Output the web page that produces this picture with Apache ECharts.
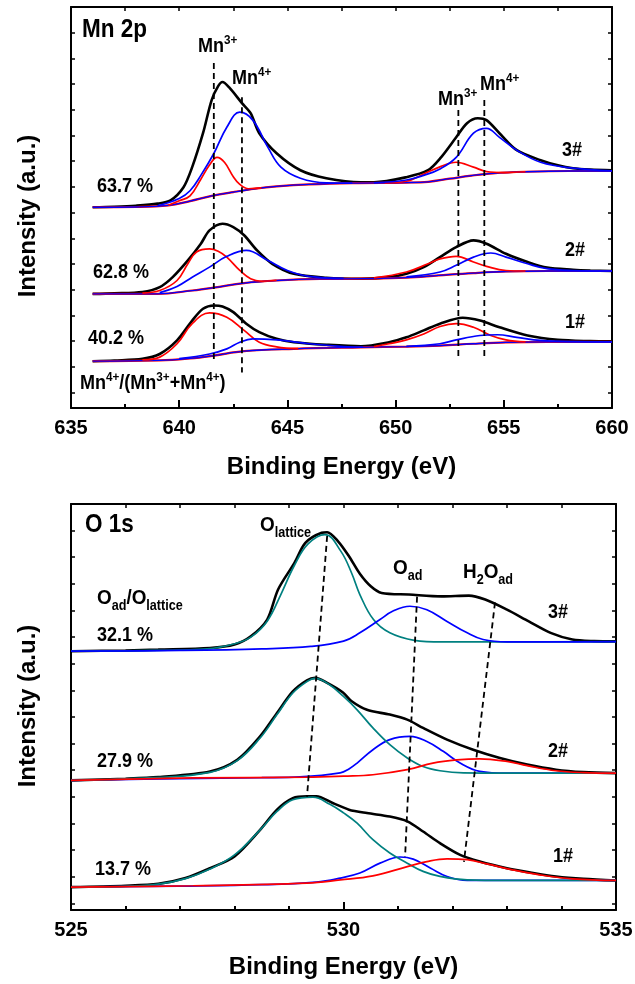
<!DOCTYPE html>
<html>
<head>
<meta charset="utf-8">
<script src="https://cdn.jsdelivr.net/npm/echarts@6/dist/echarts.min.js"></script>
<style>
  html, body { margin: 0; padding: 0; background: #fff; }
  #chart { width: 635px; height: 984px; }
</style>
</head>
<body>
<div id="chart"></div>
<script>
// ---------- Mn 2p panel (E in eV, intensity in arbitrary units) ----------
const mnYTicks = [0, 1, 2, 3, 4, 5, 6, 7, 8, 9, 10, 11, 12, 13, 14, 15]

const mnBase3 = [[636,7.21],[638,7.22],[639.5,7.28],[640.5,7.45],[641.5,7.65],[642.5,7.8],[643.5,7.93],[644.5,8.02],[646,8.1],[648,8.15],[650.5,8.17],[651.5,8.2],[652.5,8.32],[653.5,8.44],[654.5,8.53],[656,8.59],[658,8.62],[660,8.62]]
const mnRaw3 = [[636,7.21],[637,7.23],[638,7.27],[639,7.35],[639.6,7.48],[640.2,7.99],[640.6,8.77],[641.1,10.09],[641.5,11.38],[641.8,11.92],[642,12.08],[642.3,11.88],[642.9,11.26],[643.3,10.87],[643.7,10.09],[644.5,9.31],[645.6,8.65],[646.8,8.34],[648.4,8.18],[649,8.18],[650.5,8.38],[651.5,8.65],[652.1,9.15],[652.8,9.93],[653.3,10.48],[653.8,10.67],[654.2,10.6],[654.8,10.09],[655.6,9.43],[656.7,9.04],[657.5,8.84],[658.2,8.73],[659,8.68],[660,8.65]]
const mnRed3 = [
  [[639.5,7.29],[640,7.46],[640.5,7.65],[641,8.3],[641.4,8.85],[641.75,9.15],[642.1,8.95],[642.5,8.4],[642.8,8.1],[643.2,7.93],[643.8,7.96]],
  [[649.5,8.16],[650.5,8.22],[651.3,8.5],[652.1,8.8],[652.8,8.96],[653.6,8.77],[654.2,8.6],[655,8.56],[656,8.59]]
]
const mnBlue3 = [
  [[639,7.27],[640,7.55],[640.5,7.85],[641,8.45],[641.6,9.3],[642.2,10.32],[642.8,10.91],[643.4,10.6],[644.1,9.54],[644.7,8.77],[645.6,8.34],[646.8,8.16],[648,8.15]],
  [[649,8.16],[650.5,8.27],[651.3,8.45],[652.05,8.7],[652.8,9.15],[653.6,10.09],[654.2,10.28],[654.8,9.93],[655.6,9.43],[656.7,8.96],[658.2,8.73],[660,8.63]]
]

const mnBase2 = [[636,3.84],[639,3.84],[640.6,3.97],[641.6,4.08],[643,4.26],[644.5,4.36],[646.5,4.42],[648.5,4.43],[650.5,4.47],[652,4.56],[653.6,4.65],[655.1,4.71],[657,4.73],[660,4.73]]
const mnRaw2 = [[636,3.84],[637,3.86],[638.3,3.91],[639.1,4.1],[639.7,4.49],[640.4,5.14],[641,5.79],[641.4,6.31],[642,6.57],[642.5,6.44],[643,6.12],[643.6,5.53],[644.3,5.01],[645.3,4.62],[646.8,4.47],[648.4,4.43],[649.7,4.49],[650.5,4.62],[651.3,4.88],[652.05,5.27],[652.8,5.66],[653.6,5.92],[654.2,5.79],[655.1,5.4],[656.1,5.08],[657,4.86],[658.2,4.78],[659,4.75],[660,4.73]]
const mnRed2 = [
  [[638.3,3.87],[639.1,3.97],[639.9,4.36],[640.4,5.01],[640.8,5.47],[641.4,5.59],[641.8,5.5],[642.2,5.27],[642.8,4.75],[643.3,4.43],[643.8,4.33],[644.5,4.37]],
  [[649,4.46],[650.5,4.69],[651.5,5.01],[652.05,5.2],[652.8,5.3],[653.6,5.08],[654.2,4.91],[655.1,4.75],[656,4.73]]
]
const mnBlue2 = [
  [[639.1,3.89],[639.9,4.13],[640.6,4.49],[641.4,4.88],[642.2,5.3],[643.1,5.53],[644.1,5.14],[645,4.75],[646,4.52],[647.6,4.44]],
  [[650.5,4.5],[652.05,4.69],[652.8,4.95],[653.6,5.27],[654.4,5.43],[655.1,5.27],[656.1,5.01],[657,4.82],[658.2,4.75],[660,4.73]]
]

const mnBase1 = [[636,1.22],[639.1,1.25],[640.5,1.33],[641.6,1.44],[643,1.61],[645.3,1.7],[648.4,1.76],[650.5,1.79],[652.05,1.83],[653.6,1.9],[655.1,1.95],[657,1.97],[660,1.97]]
const mnRaw1 = [[636,1.22],[637,1.25],[638.3,1.31],[639.1,1.5],[639.9,2.03],[640.6,2.8],[641.1,3.26],[641.6,3.39],[642,3.35],[642.5,3.13],[643.1,2.68],[643.7,2.35],[644.5,2.09],[645.3,1.96],[646.8,1.86],[648.4,1.8],[649.7,1.96],[650.5,2.15],[651.3,2.42],[652.05,2.68],[653.1,2.91],[653.9,2.8],[654.8,2.54],[656.1,2.22],[657.5,2.05],[659,2],[660,1.99]]
const mnRed1 = [
  [[638.3,1.27],[639.1,1.38],[639.9,1.9],[640.6,2.68],[641.4,3.1],[642.2,2.93],[643,2.42],[643.7,1.96],[644.5,1.78],[645.5,1.71]],
  [[649,1.79],[649.7,1.9],[650.5,2.05],[651.3,2.28],[652.05,2.57],[652.8,2.68],[653.6,2.54],[654.4,2.22],[655.1,2.05],[656,1.97]]
]
const mnBlue1 = [
  [[640,1.32],[641.4,1.5],[642.2,1.7],[642.8,1.96],[643.4,2.09],[644.5,2.05],[646,1.9],[647.6,1.79],[648.5,1.77]],
  [[650.5,1.8],[652.05,1.9],[652.8,2.05],[653.9,2.22],[654.7,2.25],[655.6,2.15],[656.7,2.03],[658.2,1.98],[660,1.97]]
]

const mnGuides = [
  [[641.6,12.82],[641.6,1.25]],
  [[642.9,11.49],[642.9,0.78]],
  [[652.9,10.99],[652.9,1.36]],
  [[654.1,11.38],[654.1,1.36]]
]
const mnRatios = ['63.7 %', '62.8 %', '40.2 %']

// ---------- O 1s panel ----------
const oYTicks = [0, 1, 2, 3, 4, 5, 6, 7, 8, 9, 10, 11, 12, 13, 14, 15]

const oRaw3 = [[525,9.47],[526,9.5],[526.6,9.53],[527.55,9.59],[528,9.72],[528.3,10.03],[528.6,10.66],[528.8,11.79],[529.1,12.79],[529.3,13.54],[529.6,13.92],[529.7,13.94],[529.9,13.6],[530.1,13.04],[530.3,12.38],[530.5,11.91],[530.7,11.66],[531.2,11.6],[531.8,11.53],[532.3,11.56],[532.6,11.41],[533,11.03],[533.4,10.59],[533.8,10.16],[534.2,9.91],[534.6,9.85],[535,9.84]]
const oLat3 = [[525,9.47],[526.5,9.5],[527.5,9.56],[528,9.75],[528.3,10],[528.6,10.6],[528.85,11.6],[529.1,12.7],[529.35,13.5],[529.66,13.85],[529.95,13.23],[530.15,12.4],[530.3,11.6],[530.55,10.66],[530.85,10.16],[531.3,9.88],[531.8,9.82],[533,9.82],[535,9.83]]
const oAd3 = [[525,9.47],[527,9.5],[528.5,9.56],[529.4,9.65],[530,9.85],[530.3,10.16],[530.67,10.66],[530.9,10.97],[531.22,11.16],[531.53,11.03],[531.9,10.59],[532.27,10.16],[532.56,9.91],[533,9.82],[534,9.82],[535,9.83]]

const oRaw2 = [[525,4.62],[526,4.68],[526.6,4.74],[527.55,4.95],[528.05,5.39],[528.47,6.27],[528.78,7.15],[529.07,7.96],[529.33,8.38],[529.48,8.47],[529.7,8.28],[529.99,7.92],[530.15,7.59],[530.43,7.27],[530.85,7.09],[531.17,6.9],[531.46,6.59],[531.9,6.15],[532.38,5.77],[532.87,5.46],[533.37,5.21],[533.9,5.02],[534.4,4.93],[535,4.89]]
const oLat2 = [[525,4.62],[526.5,4.72],[527.55,4.92],[528.05,5.36],[528.47,6.21],[528.78,7.09],[529.07,7.9],[529.33,8.33],[529.48,8.45],[529.75,8.2],[530,7.77],[530.25,7.27],[530.54,6.59],[530.85,5.96],[531.17,5.46],[531.46,5.14],[531.77,4.98],[532.2,4.9],[533,4.89],[535,4.89]]
const oAd2 = [[525,4.62],[527,4.68],[528.5,4.72],[529.2,4.75],[529.94,4.9],[530.1,5.05],[530.25,5.27],[530.54,5.77],[530.85,6.15],[531.22,6.27],[531.53,6.08],[531.83,5.71],[532.14,5.27],[532.5,4.96],[533,4.89],[535,4.89]]
const oH2O2 = [[525,4.62],[527.24,4.71],[529.33,4.74],[530,4.78],[530.54,4.83],[531.17,5.02],[531.64,5.27],[532.08,5.39],[532.5,5.43],[533,5.33],[533.37,5.17],[533.9,4.98],[534.4,4.91],[535,4.89]]

const oRaw1 = [[525,0.61],[526,0.66],[526.6,0.73],[527.1,0.95],[527.55,1.32],[528,1.76],[528.47,2.76],[528.78,3.52],[529.07,3.95],[529.33,4.02],[529.5,4.02],[529.8,3.77],[530.1,3.52],[530.43,3.39],[530.85,3.26],[531.17,3.08],[531.46,2.7],[531.77,2.26],[532.14,1.82],[532.5,1.57],[533,1.32],[533.48,1.14],[533.9,1.01],[534.4,0.92],[535,0.86]]
const oLat1 = [[525,0.61],[526,0.64],[526.6,0.72],[527.1,0.93],[527.55,1.29],[528,1.82],[528.47,2.76],[528.78,3.45],[529.07,3.89],[529.44,3.99],[529.75,3.72],[530,3.4],[530.25,3.01],[530.54,2.39],[530.85,1.89],[531.17,1.51],[531.46,1.2],[531.77,1.01],[532.27,0.88],[533,0.86],[535,0.86]]
const oAd1 = [[525,0.61],[527,0.65],[528.5,0.7],[529.5,0.8],[529.94,0.95],[530.3,1.14],[530.67,1.51],[531.04,1.74],[531.28,1.66],[531.6,1.32],[531.9,1.01],[532.27,0.86],[533,0.86],[535,0.86]]
const oH2O1 = [[525,0.61],[527.24,0.66],[529.33,0.76],[529.94,0.88],[530.54,1.03],[531.17,1.38],[531.53,1.57],[531.9,1.67],[532.27,1.64],[532.63,1.48],[533.1,1.26],[533.6,1.07],[534.2,0.92],[535,0.86]]

const oGuides = [
  [[529.7,13.8],[529.33,4.0]],
  [[531.35,11.52],[531.13,1.75]],
  [[532.78,11.3],[532.21,1.56]]
]
const oRatios = ['32.1 %', '27.9 %', '13.7 %']
const sampleNames = ['3#', '2#', '1#']

// ---------- helpers ----------
const F = '"Liberation Sans", Arial, Helvetica, sans-serif'
const RED = '#ff0000', BLUE = '#0000ff', TEAL = '#008080'

function line(data, color, width, panel, z, smooth) {
  return {
    type: 'line', data, xAxisIndex: panel * 2, yAxisIndex: panel * 2,
    showSymbol: false, symbol: 'none', smooth: smooth === undefined ? 0.4 : smooth,
    lineStyle: {color, width}, z, silent: true, animation: false
  }
}
function guide(data, panel) {
  return {
    type: 'line', data, xAxisIndex: panel * 2, yAxisIndex: panel * 2,
    showSymbol: false, symbol: 'none',
    lineStyle: {color: '#000', width: 1.8, type: [6, 4]}, z: 8, silent: true, animation: false
  }
}

const measure = document.createElement('canvas').getContext('2d')
// parts: [text, fontSize, dy]
function label(x, y, parts, scale) {
  let cx = 0
  const children = parts.map(p => {
    const font = 'bold ' + p[1] + 'px ' + F
    measure.font = font
    const el = {
      type: 'text', x: cx, y: p[2] || 0,
      style: {text: p[0], font, fill: '#000', textVerticalAlign: 'middle', verticalAlign: 'middle', textAlign: 'left', align: 'left'}
    }
    cx += measure.measureText(p[0]).width
    return el
  })
  return {type: 'group', x, y, scaleX: scale || 0.9, children, silent: true}
}

const axisCommon = {
  axisLine: {show: true, onZero: false, lineStyle: {color: '#000', width: 2}},
  splitLine: {show: false}
}
function xBottom(panel, min, max, minorSplit, gap) {
  return Object.assign({}, axisCommon, {
    gridIndex: panel, type: 'value', position: 'bottom', min, max, interval: 5,
    axisTick: {show: true, inside: true, length: 8, lineStyle: {color: '#000', width: 2}},
    minorTick: {show: true, splitNumber: minorSplit, length: 4, lineStyle: {color: '#000', width: 2}},
    minorSplitLine: {show: false},
    axisLabel: {color: '#000', fontFamily: F, fontWeight: 'bold', fontSize: 20, margin: 10},
    name: 'Binding Energy (eV)', nameLocation: 'middle', nameGap: gap,
    nameTextStyle: {color: '#000', fontFamily: F, fontWeight: 'bold', fontSize: 24}
  })
}
function xTop(panel, min, max, interval) {
  return Object.assign({}, axisCommon, {
    gridIndex: panel, type: 'value', position: 'top', min, max, interval,
    axisTick: {show: true, inside: true, length: 4, lineStyle: {color: '#000', width: 1.5}},
    axisLabel: {show: false}
  })
}
function yAx(panel, min, max, pos, ticks) {
  return Object.assign({}, axisCommon, {
    gridIndex: panel, type: 'value', position: pos, min, max,
    axisTick: {show: true, inside: true, length: 4, customValues: ticks, lineStyle: {color: '#000', width: 1.5}},
    axisLabel: {show: false}
  })
}

// ---------- series ----------
const series = []
;[[mnBase3, mnRaw3, mnRed3, mnBlue3], [mnBase2, mnRaw2, mnRed2, mnBlue2], [mnBase1, mnRaw1, mnRed1, mnBlue1]].forEach(s => {
  series.push(line(s[1], '#000', 2.6, 0, 3, 0.3))
  series.push(line(s[0], RED, 2.2, 0, 4))
  series.push(line(s[0], BLUE, 1.3, 0, 5))
  s[2].forEach(seg => series.push(line(seg, RED, 1.7, 0, 6)))
  s[3].forEach(seg => series.push(line(seg, BLUE, 1.7, 0, 6)))
})
mnGuides.forEach(g => series.push(guide(g, 0)))

series.push(line(oRaw3, '#000', 2.6, 1, 3, 0.3))
series.push(line(oLat3, TEAL, 1.7, 1, 5))
series.push(line(oAd3, BLUE, 1.7, 1, 6))
;[[oRaw2, oLat2, oAd2, oH2O2], [oRaw1, oLat1, oAd1, oH2O1]].forEach(s => {
  series.push(line(s[0], '#000', 2.6, 1, 3, 0.3))
  series.push(line(s[2], BLUE, 1.7, 1, 5))
  series.push(line(s[1], TEAL, 1.7, 1, 5))
  series.push(line(s[3], RED, 1.7, 1, 6))
})
oGuides.forEach(g => series.push(guide(g, 1)))

// ---------- text ----------
const graphic = [
  {type: 'text', x: 28, y: 216, rotation: Math.PI / 2, silent: true,
   style: {text: 'Intensity (a.u.)', font: 'bold 24px ' + F, fill: '#000', textAlign: 'center', align: 'center', textVerticalAlign: 'middle', verticalAlign: 'middle'}},
  {type: 'text', x: 28, y: 706, rotation: Math.PI / 2, silent: true,
   style: {text: 'Intensity (a.u.)', font: 'bold 24px ' + F, fill: '#000', textAlign: 'center', align: 'center', textVerticalAlign: 'middle', verticalAlign: 'middle'}},

  label(82, 30, [['Mn 2p', 25]]),
  label(198, 46, [['Mn', 20], ['3+', 13, -6]]),
  label(232, 78, [['Mn', 20], ['4+', 13, -6]]),
  label(438, 99, [['Mn', 20], ['3+', 13, -6]]),
  label(480, 84, [['Mn', 20], ['4+', 13, -6]]),
  label(562, 150, [[sampleNames[0], 20]]),
  label(565, 250, [[sampleNames[1], 20]]),
  label(565, 322, [[sampleNames[2], 20]]),
  label(97, 186, [[mnRatios[0], 20]]),
  label(93, 272, [[mnRatios[1], 20]]),
  label(88, 338, [[mnRatios[2], 20]]),
  label(80, 383, [['Mn', 20], ['4+', 13, -6], ['/(Mn', 20], ['3+', 13, -6], ['+Mn', 20], ['4+', 13, -6], [')', 20]]),

  label(85, 525, [['O 1s', 25]]),
  label(260, 525, [['O', 21], ['lattice', 14, 8]]),
  label(393, 568, [['O', 21], ['ad', 14, 8]]),
  label(463, 572, [['H', 21], ['2', 14, 8], ['O', 21], ['ad', 14, 8]]),
  label(97, 598, [['O', 21], ['ad', 14, 8], ['/O', 21], ['lattice', 14, 8]]),
  label(548, 612, [[sampleNames[0], 20]]),
  label(548, 751, [[sampleNames[1], 20]]),
  label(553, 856, [[sampleNames[2], 20]]),
  label(97, 635, [[oRatios[0], 20]]),
  label(97, 761, [[oRatios[1], 20]]),
  label(95, 869, [[oRatios[2], 20]])
]

const chart = echarts.init(document.getElementById('chart'), null, {renderer: 'canvas'})
chart.setOption({
  animation: false,
  backgroundColor: '#fff',
  grid: [
    {left: 71, top: 7, width: 541, height: 401, containLabel: false, outerBoundsMode: 'none'},
    {left: 71, top: 504, width: 545, height: 406, containLabel: false, outerBoundsMode: 'none'}
  ],
  xAxis: [
    xBottom(0, 635, 660, 2, 47), xTop(0, 635, 660, 2.5),
    xBottom(1, 525, 535, 5, 45), xTop(1, 525, 535, 1)
  ],
  yAxis: [
    yAx(0, -0.6, 15, 'left', mnYTicks), yAx(0, -0.6, 15, 'right', mnYTicks),
    yAx(1, -0.25, 15, 'left', oYTicks), yAx(1, -0.25, 15, 'right', oYTicks)
  ],
  series,
  graphic
})
</script>
</body>
</html>
